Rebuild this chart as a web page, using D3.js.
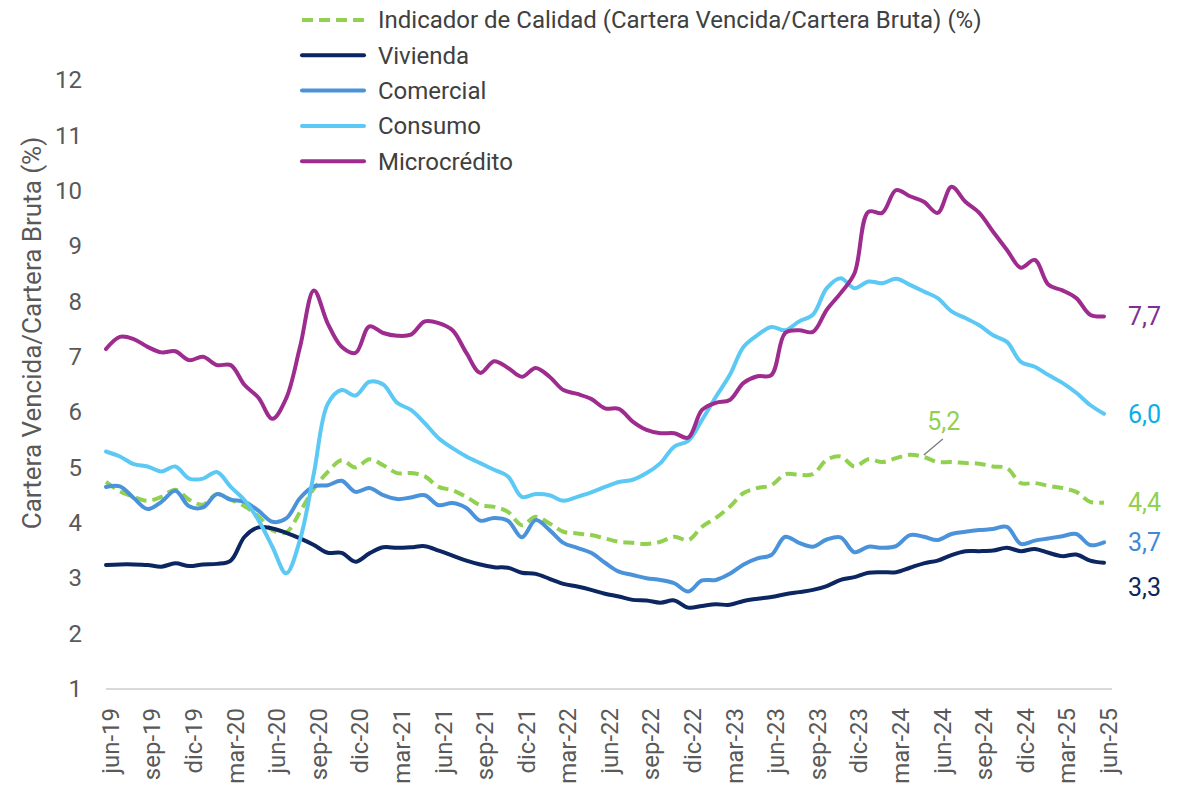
<!DOCTYPE html>
<html>
<head>
<meta charset="utf-8">
<script src="https://cdn.jsdelivr.net/npm/d3@7"></script>
<style>
  body { margin: 0; background: #fff; }
  text { font-family: Roboto, "Noto Sans", sans-serif; }
</style>
</head>
<body>
<div id="plot"></div>
<script>
// Month categories (jun-19 .. jun-25)
const months = [
  "jun-19","jul-19","ago-19","sep-19","oct-19","nov-19","dic-19","ene-20","feb-20","mar-20","abr-20","may-20",
  "jun-20","jul-20","ago-20","sep-20","oct-20","nov-20","dic-20","ene-21","feb-21","mar-21","abr-21","may-21",
  "jun-21","jul-21","ago-21","sep-21","oct-21","nov-21","dic-21","ene-22","feb-22","mar-22","abr-22","may-22",
  "jun-22","jul-22","ago-22","sep-22","oct-22","nov-22","dic-22","ene-23","feb-23","mar-23","abr-23","may-23",
  "jun-23","jul-23","ago-23","sep-23","oct-23","nov-23","dic-23","ene-24","feb-24","mar-24","abr-24","may-24",
  "jun-24","jul-24","ago-24","sep-24","oct-24","nov-24","dic-24","ene-25","feb-25","mar-25","abr-25","may-25",
  "jun-25"
];
const tickLabels = ["jun-19","sep-19","dic-19","mar-20","jun-20","sep-20","dic-20","mar-21","jun-21","sep-21",
  "dic-21","mar-22","jun-22","sep-22","dic-22","mar-23","jun-23","sep-23","dic-23","mar-24","jun-24","sep-24",
  "dic-24","mar-25","jun-25"];
const yTicks = [1,2,3,4,5,6,7,8,9,10,11,12];

// Series values (%)
const indicador = [
  4.74,4.57,4.47,4.40,4.47,4.60,4.42,4.33,4.52,4.42,4.30,4.12,
  3.87,3.83,4.20,4.62,4.92,5.13,5.00,5.15,5.04,4.90,4.90,4.84,
  4.65,4.59,4.47,4.32,4.29,4.20,3.96,4.11,3.99,3.84,3.81,3.78,
  3.72,3.66,3.64,3.62,3.66,3.75,3.69,3.93,4.09,4.29,4.54,4.63,
  4.68,4.88,4.87,4.88,5.14,5.20,5.02,5.15,5.10,5.17,5.23,5.19,
  5.10,5.10,5.08,5.07,5.02,4.99,4.72,4.72,4.67,4.63,4.56,4.38,
  4.37
];
const vivienda = [
  3.24,3.25,3.25,3.24,3.21,3.27,3.22,3.25,3.26,3.32,3.75,3.92,
  3.90,3.82,3.72,3.60,3.46,3.46,3.30,3.45,3.56,3.55,3.56,3.58,
  3.50,3.41,3.32,3.25,3.20,3.19,3.10,3.08,2.99,2.90,2.85,2.79,
  2.72,2.67,2.61,2.60,2.56,2.60,2.47,2.50,2.53,2.52,2.59,2.63,
  2.66,2.71,2.75,2.79,2.86,2.97,3.02,3.10,3.11,3.11,3.19,3.27,
  3.32,3.42,3.49,3.49,3.50,3.55,3.49,3.53,3.46,3.40,3.43,3.32,
  3.28
];
const comercial = [
  4.65,4.66,4.45,4.25,4.38,4.58,4.30,4.28,4.52,4.42,4.38,4.22,
  4.02,4.08,4.45,4.66,4.68,4.76,4.56,4.63,4.50,4.43,4.46,4.50,
  4.32,4.36,4.27,4.04,4.09,4.04,3.74,4.05,3.87,3.64,3.55,3.46,
  3.28,3.12,3.06,3.00,2.97,2.91,2.76,2.96,2.97,3.08,3.25,3.36,
  3.42,3.75,3.64,3.57,3.70,3.74,3.47,3.57,3.55,3.58,3.78,3.75,
  3.69,3.80,3.84,3.87,3.89,3.93,3.62,3.68,3.72,3.76,3.80,3.60,
  3.65
];
const consumo = [
  5.29,5.20,5.06,5.02,4.93,5.02,4.80,4.80,4.92,4.65,4.41,4.05,
  3.57,3.09,3.70,4.90,6.15,6.40,6.30,6.55,6.50,6.17,6.04,5.80,
  5.53,5.35,5.20,5.08,4.96,4.84,4.47,4.52,4.50,4.40,4.47,4.55,
  4.65,4.74,4.78,4.90,5.08,5.38,5.48,5.86,6.28,6.67,7.18,7.39,
  7.54,7.48,7.64,7.76,8.24,8.42,8.24,8.36,8.33,8.41,8.30,8.18,
  8.06,7.82,7.70,7.57,7.39,7.27,6.91,6.82,6.67,6.53,6.35,6.13,
  5.97
];
const microcredito = [
  7.14,7.36,7.32,7.18,7.08,7.10,6.94,7.00,6.85,6.85,6.49,6.26,
  5.88,6.25,7.18,8.20,7.60,7.18,7.07,7.55,7.43,7.38,7.40,7.64,
  7.61,7.48,7.07,6.71,6.92,6.80,6.64,6.80,6.64,6.40,6.33,6.24,
  6.07,6.06,5.83,5.68,5.62,5.62,5.54,6.04,6.17,6.22,6.53,6.65,
  6.67,7.43,7.48,7.45,7.85,8.15,8.51,9.62,9.60,10.01,9.90,9.80,
  9.60,10.07,9.80,9.60,9.26,8.93,8.61,8.75,8.30,8.20,8.06,7.76,
  7.73
];

const seriesNames = ["Indicador de Calidad (Cartera Vencida/Cartera Bruta) (%)", "Vivienda", "Comercial", "Consumo", "Microcrédito"];
const seriesValues = [indicador, vivienda, comercial, consumo, microcredito];
const endLabels = ["4,4", "3,3", "3,7", "6,0", "7,7"];
const peakLabel = "5,2";

// styles
const lineColors = ["#92D050", "#0B2660", "#4A93DA", "#5CC8F4", "#9E2B8E"];
const labelColors = ["#92D050", "#0B2660", "#3F8AD6", "#0AAEEA", "#7E2F95"];

const W = 1185, H = 787;
const svg = d3.select("#plot").append("svg")
  .attr("width", W)
  .attr("height", H);

const xScale = d3.scalePoint()
  .domain(months)
  .range([106, 1104]);

const yScale = d3.scaleLinear()
  .domain([1, 12])
  .range([689, 80]);

// y axis labels
const yAxis = svg.append("g")
  .attr("transform", "translate(92,0)")
  .call(d3.axisLeft(yScale).tickValues(yTicks).tickSize(0).tickPadding(10).tickFormat(d3.format("d")));
yAxis.select(".domain").remove();
yAxis.selectAll("text")
  .style("font-size", "24px")
  .style("fill", "#595959");

// y axis title
svg.append("text")
  .attr("transform", "translate(41,333) rotate(-90)")
  .attr("text-anchor", "middle")
  .style("font-size", "26px")
  .style("fill", "#595959")
  .text("Cartera Vencida/Cartera Bruta (%)");

// x axis
const xAxis = svg.append("g")
  .attr("transform", "translate(0,689)")
  .call(d3.axisBottom(xScale).tickValues(tickLabels).tickSize(0));
xAxis.select(".domain").remove();
xAxis.selectAll("text")
  .attr("transform", "rotate(-90)")
  .attr("text-anchor", "end")
  .attr("x", -19)
  .attr("y", 4)
  .attr("dy", "0.35em")
  .style("font-size", "24px")
  .style("fill", "#595959");

svg.append("line")
  .attr("x1", xScale.range()[0])
  .attr("x2", xScale.range()[1] + 8)
  .attr("y1", yScale(1))
  .attr("y2", yScale(1))
  .attr("stroke", "#D9D9D9")
  .attr("stroke-width", 2);

// lines
const line = d3.line()
  .x((d, i) => xScale(months[i]))
  .y(d => yScale(d))
  .curve(d3.curveCatmullRom.alpha(0.5));

seriesValues.forEach((vals, k) => {
  svg.append("path")
    .datum(vals)
    .attr("d", line)
    .attr("fill", "none")
    .attr("stroke", lineColors[k])
    .attr("stroke-width", 4)
    .attr("stroke-linejoin", "round")
    .attr("stroke-linecap", k === 0 ? "butt" : "round")
    .attr("stroke-dasharray", k === 0 ? "11,6" : null);
});

// end labels
const last = months.length - 1;
seriesValues.forEach((vals, k) => {
  svg.append("text")
    .attr("x", xScale(months[last]) + 24)
    .attr("y", yScale(vals[last]) + (k === 1 ? 24 : 0))
    .attr("dy", "0.35em")
    .style("font-size", "25px")
    .style("fill", labelColors[k])
    .text(endLabels[k]);
});

// peak annotation on indicador
const pk = months.indexOf("may-24");
const px = xScale(months[pk]), py = yScale(indicador[pk]);
svg.append("line")
  .attr("x1", px).attr("y1", py - 2)
  .attr("x2", px + 19).attr("y2", py - 18)
  .attr("stroke", "#7F7F7F")
  .attr("stroke-width", 1.5);
svg.append("text")
  .attr("x", px + 20)
  .attr("y", py - 27)
  .attr("text-anchor", "middle")
  .style("font-size", "25px")
  .style("fill", "#92D050")
  .text(peakLabel);

// legend
const legend = svg.append("g").attr("transform", "translate(300,20)");
seriesNames.forEach((name, k) => {
  const row = legend.append("g").attr("transform", `translate(0,${k * 35.3})`);
  row.append("line")
    .attr("x1", 2).attr("x2", 64)
    .attr("y1", 0).attr("y2", 0)
    .attr("stroke", lineColors[k])
    .attr("stroke-width", 4)
    .attr("stroke-linecap", k === 0 ? "butt" : "round")
    .attr("stroke-dasharray", k === 0 ? "11,6" : null);
  row.append("text")
    .attr("x", 78)
    .attr("dy", "0.35em")
    .style("font-size", "24px")
    .style("fill", "#404040")
    .text(name);
});
</script>
</body>
</html>
